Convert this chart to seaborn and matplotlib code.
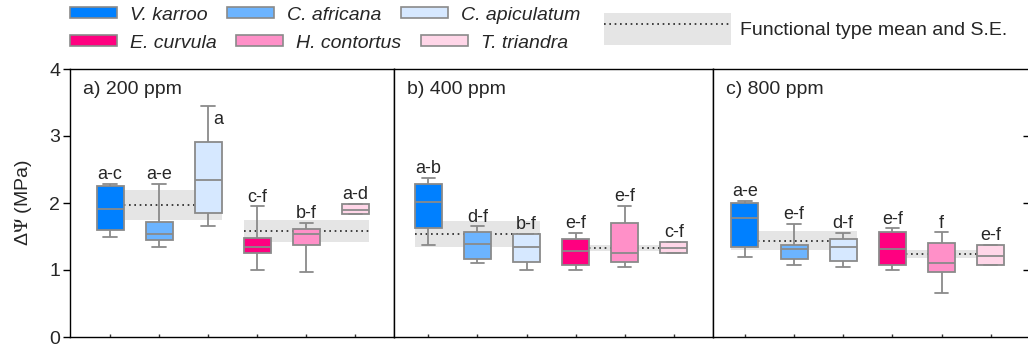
import matplotlib
matplotlib.use("Agg")
import matplotlib.pyplot as plt
import seaborn as sns
import pandas as pd
from matplotlib.patches import Patch
from matplotlib.lines import Line2D

# species (first three woody, last three grasses)
species = ["V. karroo", "C. africana", "C. apiculatum", "E. curvula", "H. contortus", "T. triandra"]
colors = ["#0080ff", "#6cb4ff", "#d6e8ff", "#ff0080", "#ff90c8", "#ffd6e8"]
panels = ["a) 200 ppm", "b) 400 ppm", "c) 800 ppm"]

# five-number summaries (min, q1, median, q3, max), MPa
box_200 = [[1.50, 1.60, 1.91, 2.26, 2.29],
           [1.35, 1.45, 1.54, 1.72, 2.29],
           [1.66, 1.85, 2.35, 2.91, 3.45],
           [1.00, 1.26, 1.34, 1.48, 1.95],
           [0.97, 1.37, 1.54, 1.61, 1.70],
           [1.83, 1.83, 1.89, 1.99, 1.99]]
box_400 = [[1.37, 1.63, 2.02, 2.29, 2.38],
           [1.11, 1.16, 1.39, 1.57, 1.65],
           [1.00, 1.12, 1.34, 1.54, 1.54],
           [1.00, 1.07, 1.29, 1.47, 1.55],
           [1.05, 1.12, 1.25, 1.70, 1.96],
           [1.26, 1.26, 1.33, 1.42, 1.42]]
box_800 = [[1.19, 1.34, 1.77, 2.00, 2.03],
           [1.08, 1.16, 1.31, 1.37, 1.69],
           [1.04, 1.14, 1.35, 1.47, 1.55],
           [1.00, 1.07, 1.32, 1.57, 1.62],
           [0.66, 0.97, 1.11, 1.40, 1.56],
           [1.08, 1.08, 1.21, 1.38, 1.38]]

# functional type mean and S.E. (woody, grass)
mean_200 = [1.97, 1.58]
se_200 = [0.22, 0.16]
mean_400 = [1.54, 1.33]
se_400 = [0.19, 0.04]
mean_800 = [1.44, 1.24]
se_800 = [0.145, 0.055]

letters_200 = ["a-c", "a-e", "a", "c-f", "b-f", "a-d"]
letters_400 = ["a-b", "d-f", "b-f", "e-f", "e-f", "c-f"]
letters_800 = ["a-e", "e-f", "d-f", "e-f", "f", "e-f"]

boxes = [box_200, box_400, box_800]
means = [mean_200, mean_400, mean_800]
ses = [se_200, se_400, se_800]
letters = [letters_200, letters_400, letters_800]

sns.set_theme(style="white")
plt.rcParams["font.family"] = ["Liberation Sans", "DejaVu Sans"]
plt.rcParams["mathtext.fontset"] = "stix"

fig = plt.figure(figsize=(10.28, 3.5), dpi=100)
W, H = 1028, 350
bottom, height = 13 / H, 268 / H
ax_specs = [(70, 323.5, (-0.815, 5.775)),
            (394, 319, (-0.70, 5.80)),
            (713, 316, (-0.65, 5.78))]

box_w = 0.55
edge = "#8a8a8a"

for p, (left, width, xlim) in enumerate(ax_specs):
    ax = fig.add_axes([left / W, bottom, width / W, height])
    rows = []
    for sp, vals in zip(species, boxes[p]):
        for v in vals:
            rows.append({"species": sp, "value": v})
    df = pd.DataFrame(rows)

    # functional type bands
    for g in range(2):
        x0, x1 = 3 * g - box_w / 2, 3 * g + 2 + box_w / 2
        m, s = means[p][g], ses[p][g]
        ax.fill_between([x0, x1], m - s, m + s, color="#e5e5e5", lw=0, zorder=0.5)
        ax.plot([x0, x1], [m, m], color="#222222", lw=1.2, ls=(0, (1, 2.2)), zorder=0.8)

    sns.boxplot(data=df, x="species", y="value", hue="species", order=species,
                hue_order=species, palette=colors, saturation=1, whis=(0, 100),
                width=box_w, linecolor=edge, linewidth=1.3, legend=False, ax=ax)

    for i, lab in enumerate(letters[p]):
        hi = boxes[p][i][4]
        if p == 0 and i == 2:
            ax.text(i + 0.2, 3.18, lab, ha="center", va="baseline", fontsize=13)
        else:
            ax.text(i, hi + 0.07, lab, ha="center", va="baseline", fontsize=13)

    ax.annotate(panels[p], xy=(0, 1), xycoords="axes fraction", xytext=(9.5, -15),
                textcoords="offset points", ha="left", va="center", fontsize=14)

    ax.set_xlim(*xlim)
    ax.set_ylim(0, 4)
    ax.set_xlabel("")
    ax.set_xticks(range(6))
    ax.set_xticklabels([""] * 6)
    ax.tick_params(axis="x", direction="in", length=2, width=1, color="#333333", bottom=True)
    for s in ax.spines.values():
        s.set_color("black")
        s.set_linewidth(1.0)

    if p == 0:
        ax.set_yticks([0, 1, 2, 3, 4])
        ax.tick_params(axis="y", direction="out", length=5, width=1, pad=2,
                       labelsize=14, left=True, color="black")
        ax.set_ylabel("Δ$\\Psi$ (MPa)", fontsize=14)
        ax.yaxis.set_label_coords(-0.112, 0.5)
    elif p == 2:
        ax.set_yticks([1, 2, 3])
        ax.set_ylabel("")
        ax.tick_params(axis="y", direction="in", length=4.5, width=1, left=False,
                       right=True, labelleft=False, labelright=False, color="black")
    else:
        ax.set_ylabel("")
        ax.set_yticks([])

# legends
sp_handles = [Patch(facecolor=c, edgecolor=edge, linewidth=1.2) for c in colors]
leg_kw = dict(loc="center left", frameon=False, ncol=3, borderpad=0, borderaxespad=0,
              handlelength=2.42, handleheight=0.51, handletextpad=0.67,
              columnspacing=1.0, prop={"style": "italic", "size": 14})
fig.legend(sp_handles[:3], species[:3], bbox_to_anchor=(70 / W, 1 - 15 / H), **leg_kw)
fig.legend(sp_handles[3:], species[3:], bbox_to_anchor=(70 / W, 1 - 43 / H), **leg_kw)

band_handle = (Patch(facecolor="#e5e5e5", edgecolor="none"),
               Line2D([], [], color="#222222", lw=1.2, ls=(0, (1, 2.2))))
fig.legend([band_handle], ["Functional type mean and S.E."], loc="center left",
           bbox_to_anchor=(604 / W, 1 - 29 / H), frameon=False, borderpad=0,
           borderaxespad=0, handlelength=6.53, handleheight=2.16, handletextpad=0.46,
           fontsize=14)

fig.savefig("out.png", dpi=100)
